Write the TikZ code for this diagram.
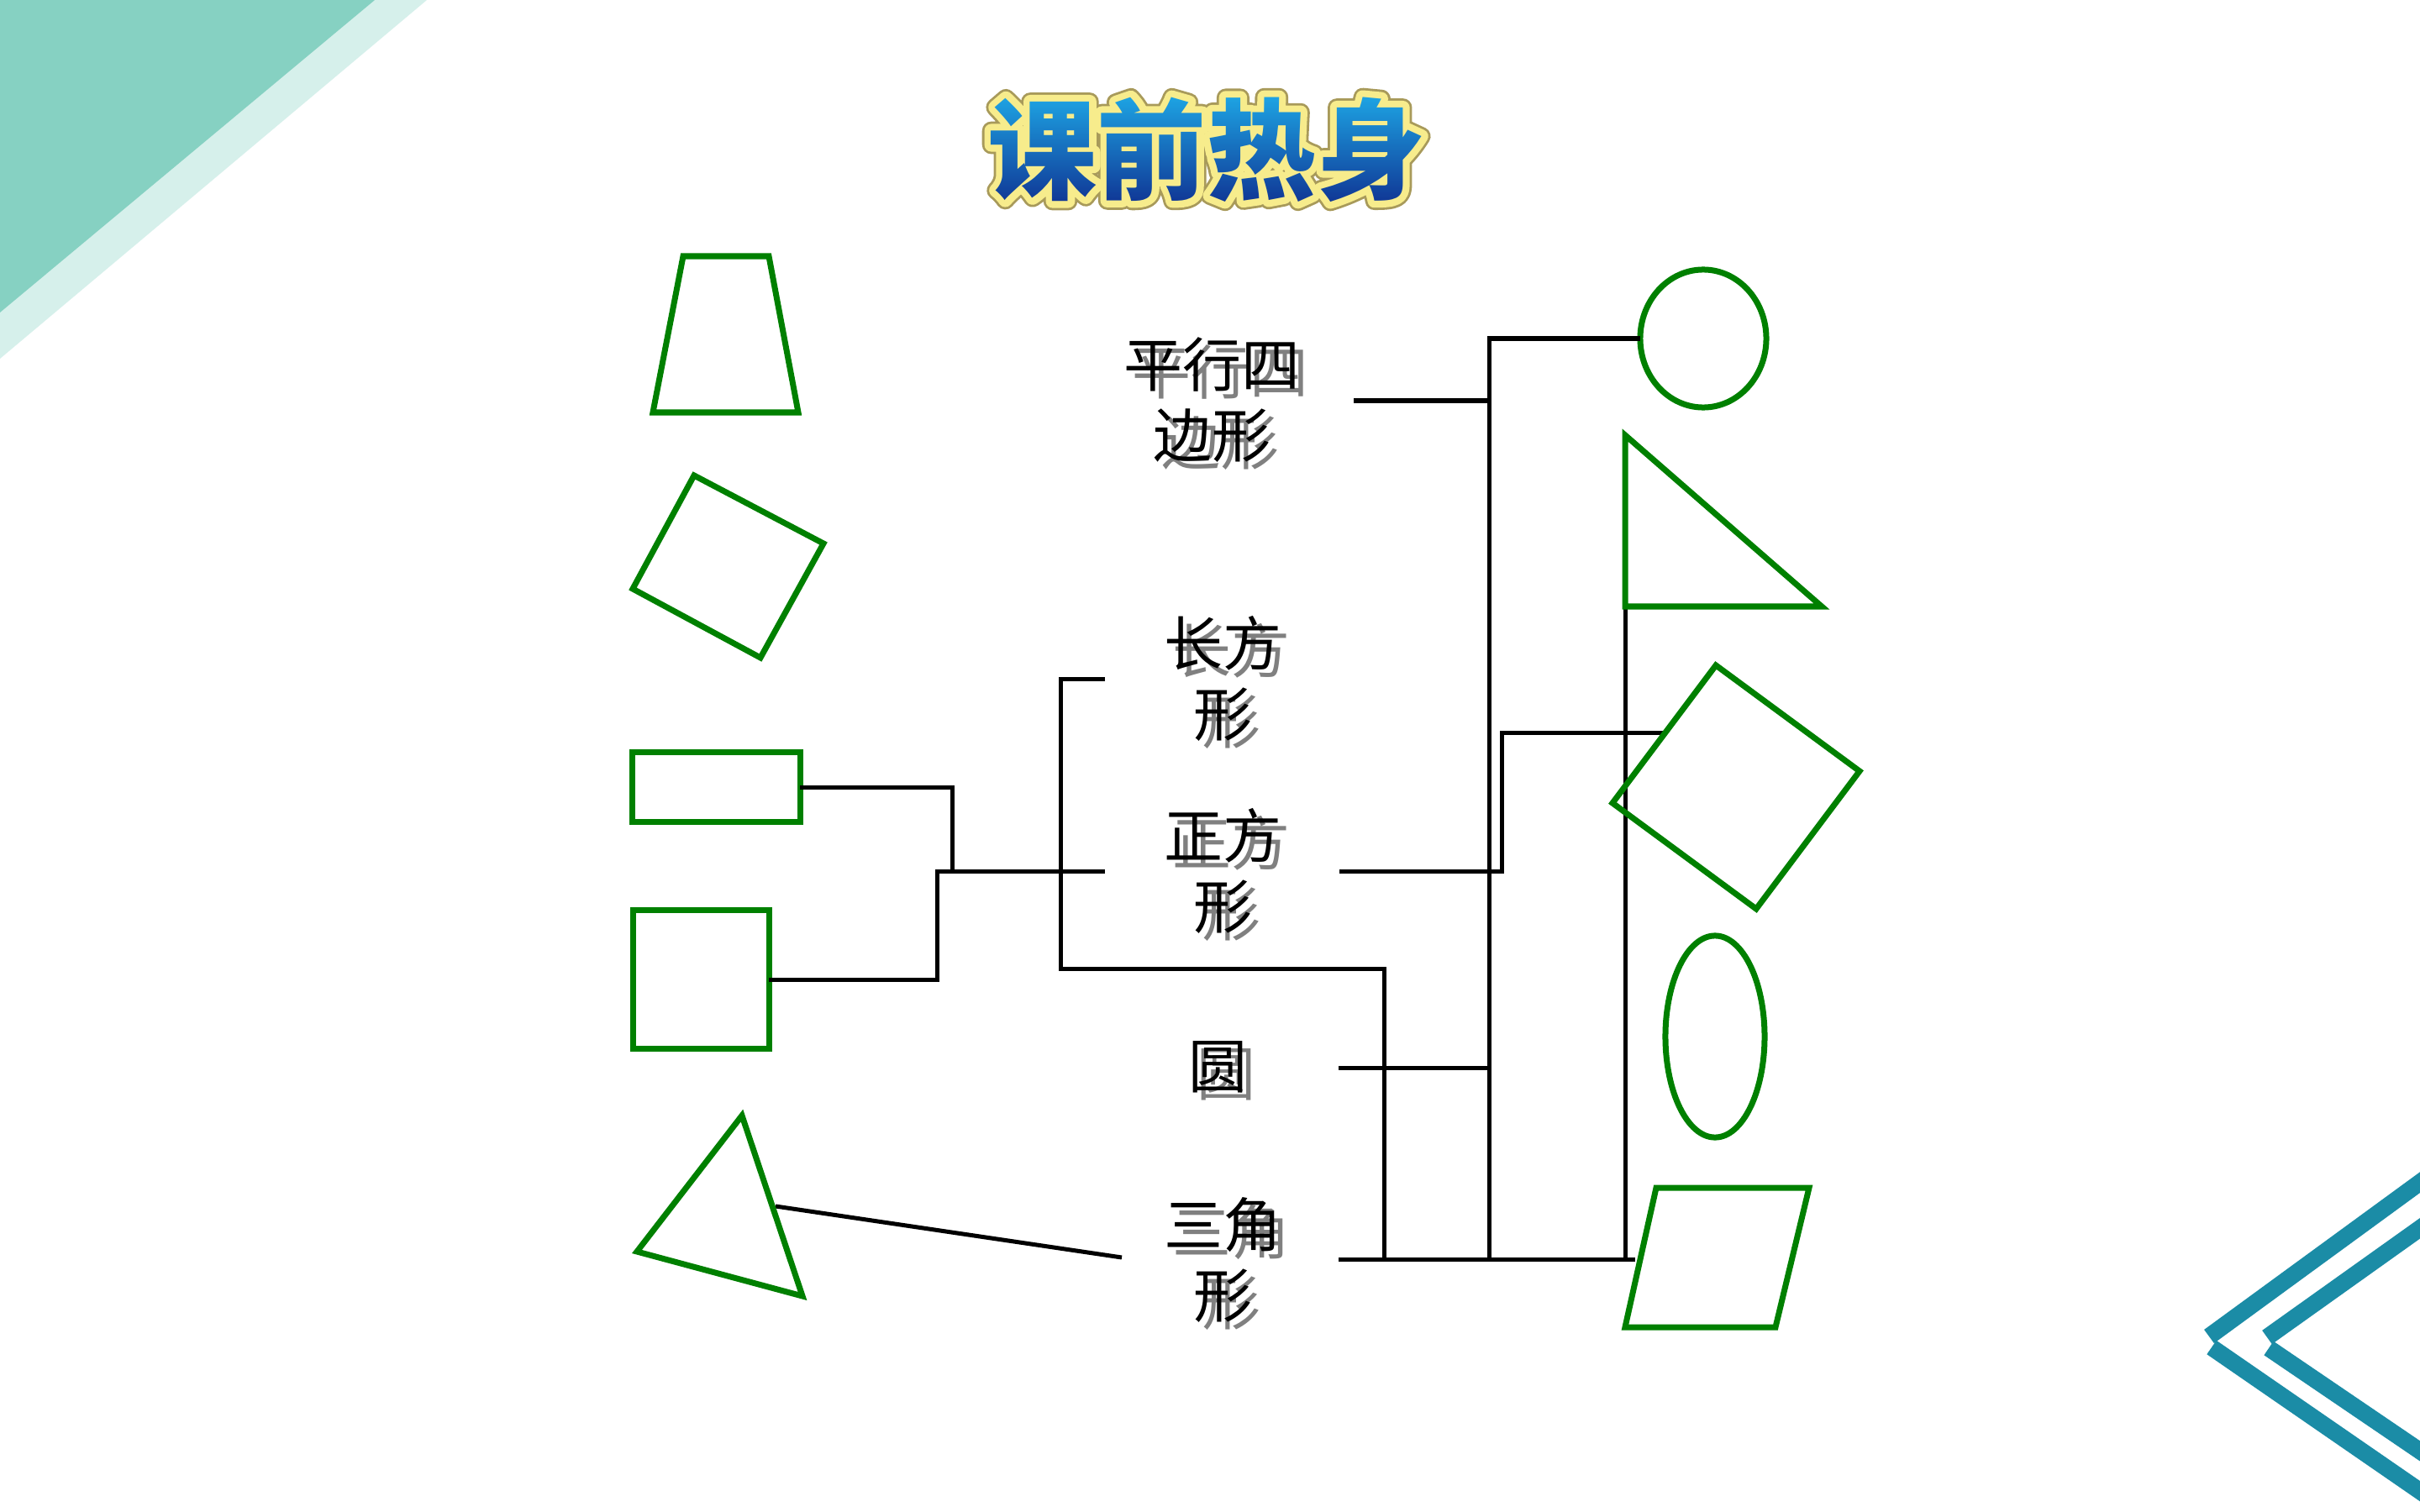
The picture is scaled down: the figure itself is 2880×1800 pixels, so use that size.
\documentclass[tikz,border=0pt]{standalone}
\usepackage{fontspec}
\setmainfont{Noto Sans CJK SC}
\newfontfamily\cjk{Noto Sans CJK SC}
\usetikzlibrary{shapes.geometric,fadings}
\definecolor{shapegreen}{HTML}{008000}
\definecolor{tealdark}{HTML}{86D1C2}
\definecolor{teallight}{HTML}{D6F0EB}
\definecolor{chev}{HTML}{1B8CA6}
\definecolor{tsky}{HTML}{1FB0EC}
\definecolor{tnavy}{HTML}{0E2A8C}
\definecolor{tyellow}{HTML}{F7EC8C}
\definecolor{tedge}{HTML}{A89A5A}
\definecolor{shadowgray}{HTML}{808080}
\tikzset{ttl/.style={font={\cjk\bfseries\fontsize{37pt}{40pt}\selectfont},inner sep=0pt,outer sep=0pt}}
\begin{tikzfadingfrompicture}[name=titlefade]
\node[ttl,text=transparent!0] (tf) at (0,0) {课前热身};
\end{tikzfadingfrompicture}
\begin{document}
\begin{tikzpicture}[x=0.01cm,y=-0.01cm,
  gshape/.style={draw=shapegreen,line width=0.07cm,line join=miter},
  gnode/.style={gshape,inner sep=0pt,outer sep=0pt},
  conn/.style={draw=black,line width=0.05cm},
  lbl/.style={font={\cjk\fontsize{19.9pt}{24.1pt}\selectfont},align=center,inner sep=0pt},
  lblshadow/.style={lbl,text=shadowgray},
  chevron/.style={draw=chev,line width=0.2cm}]
\useasboundingbox (0,0) rectangle (2880,1800);
\fill[white] (0,0) rectangle (2880,1800);
% corner decorations
\fill[teallight] (0,0) -- (508,0) -- (0,427) -- cycle;
\fill[tealdark] (0,0) -- (446,0) -- (0,372) -- cycle;
\begin{scope}
\clip (0,0) rectangle (2880,1800);
\draw[chevron] (2900,1393) -- (2629,1591);
\draw[chevron] (2632,1604) -- (2900,1789);
\draw[chevron] (2900,1448) -- (2698,1592);
\draw[chevron] (2700,1605) -- (2900,1741);
\end{scope}
% title: outlined text, gradient fill through a fading
\coordinate (T) at (1436,178);
\node[ttl,text=tedge] (tedgeN) at (T) {\special{pdf:literal direct 2 Tr 6.2 w 1 j}课前热身\special{pdf:literal direct 0 Tr 0.4 w}};
\node[ttl,text=tyellow] (tyelN) at (T) {\special{pdf:literal direct 2 Tr 4.6 w 1 j}课前热身\special{pdf:literal direct 0 Tr 0.4 w}};
\shade[path fading=titlefade,fit fading=false,fading transform={shift={(1436,178)}},top color=tsky,bottom color=tnavy] (1126,100) rectangle (1746,256);
% labels
\node[lblshadow] (s1) at (1452,485) {平行四\\边形};
\node[lbl] (l1) at (1442,476) {平行四\\边形};
\node[lblshadow] (s2) at (1465,817) {长方\\形};
\node[lbl] (l2) at (1455,808) {长方\\形};
\node[lblshadow] (s3) at (1465,1046) {正方\\形};
\node[lbl] (l3) at (1455,1037) {正方\\形};
\node[lblshadow] (s4) at (1459,1279) {圆};
\node[lbl] (l4) at (1449,1270) {圆};
\node[lblshadow] (s5) at (1465,1509) {三角\\形};
\node[lbl] (l5) at (1455,1500) {三角\\形};
% connector points
\coordinate (jA) at (1133,1037);
\coordinate (jB) at (1115,1037);
\coordinate (zL) at (1315,1037);
\coordinate (cL) at (1315,808);
\coordinate (cB) at (1262,808);
\coordinate (cC) at (1262,1153);
\coordinate (cD) at (1647,1153);
\coordinate (cE) at (1647,1499);
\coordinate (sjR) at (1593,1499);
\coordinate (pgL) at (1946,1499);
\coordinate (yR) at (1593,1271);
\coordinate (yV) at (1772,1271);
\coordinate (vB) at (1772,1499);
\coordinate (vT) at (1772,403);
\coordinate (pR) at (1611,477);
\coordinate (pV) at (1772,477);
\coordinate (zR) at (1594,1037);
\coordinate (zA) at (1787,1037);
\coordinate (zB) at (1787,872);
\coordinate (rhL) at (1980,872);
\coordinate (rtBL) at (1934,722);
\coordinate (rtV) at (1934,1499);
\coordinate (triR) at (923,1436);
\coordinate (sjL) at (1335,1497);
% named shapes
\node[gnode,rectangle,minimum width=1.99cm,minimum height=0.82cm] (rectA) at (852.5,937) {};
\node[gnode,rectangle,minimum width=1.61cm,minimum height=1.64cm] (sqB) at (834.5,1166) {};
\node[gnode,ellipse,minimum width=1.50cm,minimum height=1.64cm] (circC) at (2027,403) {};
% connectors
\draw[conn] (rectA.east) -| (jA);
\draw[conn] (sqB.east) -| (jB) -- (zL);
\draw[conn] (cL) -- (cB) -- (cC) -- (cD) -- (cE);
\draw[conn] (sjR) -- (pgL);
\draw[conn] (yR) -- (yV);
\draw[conn] (vB) -- (vT) -- (circC.west);
\draw[conn] (pR) -- (pV);
\draw[conn] (zR) -- (zA) -- (zB) -- (rhL);
\draw[conn] (rtBL) -- (rtV);
\draw[conn] (triR) -- (sjL);
% green shapes
\node[gnode,ellipse,minimum width=1.18cm,minimum height=2.40cm] (ellE) at (2041,1234) {};
\draw[gshape] (813,305) -- (915,305) -- (950,491) -- (777,491) -- cycle;
\draw[gshape] (826,566) -- (980,647) -- (905,783) -- (753,701) -- cycle;
\draw[gshape] (883,1328) -- (955,1543) -- (758,1490) -- cycle;
\draw[gshape] (1934,518) -- (2168,722) -- (1934,722) -- cycle;
\draw[gshape] (2042,792) -- (2213,918) -- (2090,1082) -- (1919,956) -- cycle;
\draw[gshape] (1971,1414) -- (2153,1414) -- (2113,1580) -- (1934,1580) -- cycle;
\end{tikzpicture}
\end{document}
